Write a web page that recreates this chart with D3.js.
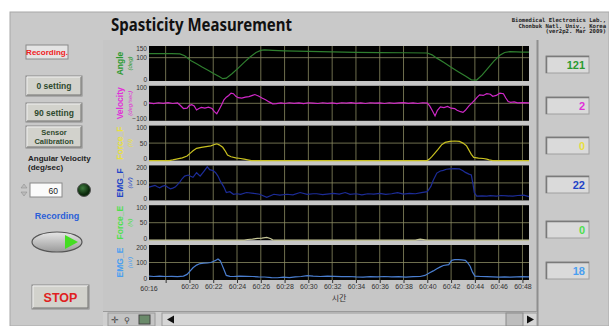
<!DOCTYPE html>
<html>
<head>
<meta charset="utf-8">
<script src="https://cdn.jsdelivr.net/npm/d3@7"></script>
<style>
  body { margin: 0; background: #fff; }
  svg { display: block; font-family: "Liberation Sans", Arial, sans-serif; }
</style>
</head>
<body>
<svg id="front" width="609" height="326"></svg>
<script>
// time is seconds after 60:00
const angle = [[16.6,117],[17.5,117],[18.5,117],[19.2,116],[19.6,108],[20.1,88],[20.6,74],[21.1,59],[21.6,45],[22.1,30],[22.5,19],[22.8,10],[23.1,12],[23.6,32],[24.1,55],[24.6,80],[25.1,103],[25.6,122],[26.0,131],[26.3,133],[27.0,131],[28.0,129],[30.0,127],[32.0,125],[34.0,123],[36.0,122],[38.0,121],[40.0,120],[40.4,112],[40.8,98],[41.4,79],[42.0,59],[42.6,40],[43.2,21],[43.7,5],[44.15,4],[44.6,25],[45.1,55],[45.6,85],[46.1,110],[46.5,122],[46.95,126],[47.5,125],[48.0,124],[48.55,124]];
const velocity = [[16.6,2],[17.0,-2],[17.4,3],[17.8,0],[18.2,4],[18.6,-1],[19.0,2],[19.2,-10],[19.5,-30],[19.8,-28],[20.0,-12],[20.2,-8],[20.4,-15],[20.6,-38],[20.8,-30],[21.0,-24],[21.3,-28],[21.6,-22],[21.9,-30],[22.1,-48],[22.3,-60],[22.5,-35],[22.7,-10],[22.9,20],[23.1,35],[23.3,45],[23.5,58],[23.7,55],[23.9,40],[24.1,32],[24.4,30],[24.7,35],[25.0,38],[25.3,45],[25.5,50],[25.8,42],[26.1,30],[26.4,20],[26.7,8],[27.0,-3],[27.3,-2],[27.7,2],[28.0,-1],[28.4,3],[28.8,0],[29.2,2],[29.6,-2],[30.0,3],[30.4,1],[30.8,-1],[31.2,3],[31.6,0],[32.0,2],[32.4,-2],[32.8,3],[33.2,1],[33.6,4],[34.0,0],[34.4,2],[34.8,-1],[35.2,3],[35.6,1],[36.0,2],[36.4,-1],[36.8,3],[37.2,0],[37.6,2],[38.0,4],[38.4,0],[38.8,2],[39.2,-1],[39.6,3],[40.0,1],[40.2,-15],[40.45,-45],[40.65,-72],[40.85,-40],[41.1,-20],[41.4,-25],[41.7,-18],[42.0,-28],[42.3,-30],[42.5,-40],[42.8,-48],[43.0,-52],[43.2,-40],[43.5,-15],[43.8,5],[44.0,20],[44.2,35],[44.4,48],[44.7,45],[45.0,55],[45.3,52],[45.5,40],[45.8,45],[46.1,58],[46.4,55],[46.6,30],[46.8,10],[47.0,5],[47.3,8],[47.6,2],[48.0,4],[48.55,2]];
const forceF = [[16.6,0],[18.3,0],[18.6,2],[19.0,5],[19.4,8],[19.8,13],[20.1,22],[20.3,28],[20.6,35],[21.0,38],[21.4,40],[21.8,42],[22.1,46],[22.3,48],[22.5,45],[22.8,38],[23.0,28],[23.2,16],[23.5,11],[23.9,8],[24.3,6],[24.6,4],[24.9,2],[25.2,0],[40.0,0],[40.2,5],[40.4,12],[40.6,20],[40.9,32],[41.2,45],[41.5,52],[41.9,55],[42.3,56],[42.7,55],[43.0,50],[43.3,42],[43.5,30],[43.7,18],[43.9,9],[44.3,7],[44.7,6],[45.0,4],[45.2,2],[45.5,0],[48.55,0]];
const emgF = [[16.6,76],[16.9,82],[17.1,86],[17.3,78],[17.5,72],[17.7,80],[17.96,86],[18.2,74],[18.4,66],[18.6,70],[18.8,76],[19.0,90],[19.2,106],[19.4,125],[19.6,139],[19.9,145],[20.1,138],[20.3,132],[20.6,158],[20.9,139],[21.2,165],[21.5,192],[21.7,176],[22.0,170],[22.2,158],[22.4,139],[22.6,110],[22.9,76],[23.1,45],[23.4,50],[23.7,35],[24.0,38],[24.3,35],[24.8,45],[25.4,40],[25.9,35],[26.5,18],[27.1,35],[27.6,30],[28.2,35],[28.7,32],[29.3,45],[29.9,35],[30.4,38],[30.7,38],[31.2,33],[32.1,40],[32.6,36],[33.1,45],[33.5,35],[34.0,38],[34.5,32],[35.0,38],[35.5,36],[36.0,40],[36.5,34],[37.0,38],[37.5,44],[38.0,36],[38.5,40],[39.0,38],[39.5,44],[40.0,50],[40.3,80],[40.5,115],[40.8,156],[41.1,168],[41.35,172],[41.6,178],[41.9,180],[42.3,182],[42.7,180],[43.0,170],[43.2,160],[43.5,150],[43.7,145],[43.85,90],[43.95,45],[44.15,24],[44.6,26],[45.0,24],[45.3,27],[45.8,25],[46.2,28],[46.7,26],[47.2,24],[47.6,28],[48.1,30],[48.55,22]];
const forceE = [[16.6,0],[24.6,0],[24.9,2],[25.3,3],[25.7,5],[26.1,6],[26.5,8],[26.8,5],[27.0,1],[27.3,0],[39.0,0],[39.4,3],[39.8,1],[40.0,0],[48.55,0]];
const emgE = [[16.6,22],[17.0,20],[17.5,22],[18.0,20],[18.5,21],[19.0,19],[19.5,22],[19.8,32],[20.05,51],[20.3,70],[20.6,85],[20.9,94],[21.2,96],[21.5,97],[21.8,100],[22.0,106],[22.2,112],[22.4,120],[22.6,109],[22.75,85],[22.9,60],[23.1,26],[23.4,21],[23.7,20],[24.2,22],[24.8,21],[25.3,20],[25.8,18],[26.3,17],[26.9,14],[27.4,13],[27.9,16],[28.4,14],[28.9,18],[29.4,20],[29.9,25],[30.4,22],[31.0,20],[31.6,22],[32.2,21],[32.8,19],[33.4,20],[34.0,18],[34.6,17],[35.2,19],[35.8,18],[36.4,20],[37.0,18],[37.6,19],[38.2,17],[38.8,19],[39.4,20],[39.8,26],[40.2,41],[40.5,52],[40.8,64],[41.1,75],[41.35,83],[41.8,88],[42.05,112],[42.3,116],[42.6,116],[42.9,115],[43.2,112],[43.4,98],[43.6,79],[43.8,45],[44.0,22],[44.5,20],[45.0,19],[45.5,18],[46.0,17],[46.5,18],[47.0,16],[47.5,18],[48.0,19],[48.55,18]];

const panelNames = ["Angle", "Velocity", "Force_F", "EMG_F", "Force_E", "EMG_E"];
const panelUnits = ["(deg)", "(deg/sec)", "(N)", "(uV)", "(N)", "(uV)"];
const panelDomains = [[0, 150], [-100, 100], [0, 100], [0, 200], [0, 100], [0, 200]];
const panelTicks = [[0, 100, 150], [-100, 0, 100], [0, 50, 100], [0, 100, 200], [0, 50, 100], [0, 100, 200]];
const panelGrid = [100, 0, 50, 100, 50, 100];
const currentValues = [121, 2, 0, 22, 0, 18];
const xDomain = [16.6, 48.55];
const xTickTimes = [18, 20, 22, 24, 26, 28, 30, 32, 34, 36, 38, 40, 42, 44, 46, 48];
const xMinLabel = "60:16";

const series = [angle, velocity, forceF, emgF, forceE, emgE];
const labelColors = ["#2a9a30", "#e030d8", "#e8e040", "#1e44c8", "#4ee04e", "#4a9ff0"];
const traceColors = ["#2f7f2f", "#d028c8", "#c8c020", "#1c2c98", "#c8c898", "#4a7ed0"];

const svg = d3.select("#front");
const defs = svg.append("defs");

// front panel
svg.append("rect").attr("x", 10).attr("y", 12).attr("width", 599).attr("height", 314)
  .attr("fill", "#c9c9c9").attr("stroke", "#a8a8a8");

svg.append("text").attr("x", 111).attr("y", 31)
  .attr("font-family", "'Noto Sans', 'DejaVu Sans', sans-serif")
  .attr("font-weight", "bold").attr("font-size", 18).attr("fill", "#111")
  .attr("textLength", 181).attr("lengthAdjust", "spacingAndGlyphs")
  .text("Spasticity Measurement");

const labLines = ["Biomedical Electronics Lab.,", "Chonbuk Natl. Univ., Korea", "(ver2p2. Mar 2009)"];
svg.selectAll("text.lab").data(labLines).enter().append("text")
  .attr("class", "lab")
  .attr("x", 606).attr("y", (d, i) => 22 + i * 5.5)
  .attr("text-anchor", "end")
  .attr("font-family", "'DejaVu Sans Mono', monospace")
  .attr("font-weight", "bold").attr("font-size", 5.6).attr("fill", "#222")
  .text(d => d);

// chart frame
svg.append("rect").attr("x", 103).attr("y", 40).attr("width", 434).attr("height", 271)
  .attr("fill", "#c6c6c6");
svg.append("line").attr("x1", 537.5).attr("x2", 537.5).attr("y1", 40).attr("y2", 326)
  .attr("stroke", "#8e8e8e").attr("stroke-width", 2);
svg.append("line").attr("x1", 103).attr("x2", 537).attr("y1", 311.5).attr("y2", 311.5)
  .attr("stroke", "#9a9a9a");

const x = d3.scaleLinear().domain(xDomain).range([149, 529]);
const panelTop = 46, panelStep = 39.8, panelH = 35;
const fmt = t => "60:" + d3.format("02d")(t);

series.forEach((data, i) => {
  const top = panelTop + i * panelStep;
  const dom = panelDomains[i];
  const y = d3.scaleLinear().domain(dom).range([top + panelH, top]);
  const g = svg.append("g");

  g.append("rect").attr("x", 149).attr("y", top).attr("width", 380).attr("height", panelH)
    .attr("fill", "#000");

  g.selectAll("line.vg").data(xTickTimes).enter().append("line")
    .attr("x1", d => x(d)).attr("x2", d => x(d))
    .attr("y1", top).attr("y2", top + panelH)
    .attr("stroke", "#8a8a62").attr("stroke-width", 0.8);

  g.append("line").attr("x1", 149).attr("x2", 529)
    .attr("y1", y(panelGrid[i])).attr("y2", y(panelGrid[i]))
    .attr("stroke", "#8a8a62").attr("stroke-width", 0.8);

  g.append("path").datum(data)
    .attr("fill", "none").attr("stroke", traceColors[i]).attr("stroke-width", 1.2)
    .attr("d", d3.line().x(d => x(d[0])).y(d => y(d[1])));

  const ax = g.append("g").attr("transform", "translate(148,0)")
    .call(d3.axisLeft(y).tickValues(panelTicks[i]).tickSize(0).tickPadding(1));
  ax.select(".domain").remove();
  ax.selectAll("text").attr("font-size", 6.5).attr("fill", "#333")
    .attr("dy", d => d === dom[1] ? "0.62em" : d === dom[0] ? "0.02em" : "0.32em");

  const cy = top + panelH / 2;
  g.append("text").attr("transform", `translate(123,${cy}) rotate(-90)`)
    .attr("text-anchor", "middle").attr("font-weight", "bold").attr("font-size", 8.5)
    .attr("fill", labelColors[i]).text(panelNames[i]);
  g.append("text").attr("transform", `translate(131.5,${cy}) rotate(-90)`)
    .attr("text-anchor", "middle").attr("font-style", "italic").attr("font-size", 6)
    .attr("fill", labelColors[i]).text(panelUnits[i]);

  // numeric indicator
  const by = [56, 97, 137, 176, 221, 262][i];
  svg.append("rect").attr("x", 546).attr("y", by).attr("width", 43).attr("height", 17)
    .attr("fill", "#dadada").attr("stroke", "#a0a0a0");
  svg.append("path").attr("d", `M546.5,${by + 17}V${by + 0.5}H589`)
    .attr("fill", "none").attr("stroke", "#7a7a7a").attr("stroke-width", 1.5);
  svg.append("text").attr("x", 585).attr("y", by + 12.5).attr("text-anchor", "end")
    .attr("font-weight", "bold").attr("font-size", 11).attr("fill", labelColors[i])
    .text(currentValues[i]);
});

// time axis
const lastBottom = panelTop + 5 * panelStep + panelH;
const xa = svg.append("g").attr("transform", `translate(0,${lastBottom})`)
  .call(d3.axisBottom(x).tickValues(xTickTimes).tickSize(3).tickPadding(1)
    .tickFormat(d => d === xTickTimes[0] ? "" : fmt(d)));
xa.select(".domain").remove();
xa.selectAll("line").attr("stroke", "#333");
xa.selectAll("text").attr("font-size", 7).attr("fill", "#333");
svg.append("text").attr("x", x(xDomain[0])).attr("y", lastBottom + 11)
  .attr("text-anchor", "middle").attr("font-size", 7).attr("fill", "#333").text(xMinLabel);
svg.append("text").attr("x", 339).attr("y", lastBottom + 21)
  .attr("text-anchor", "middle").attr("font-size", 8).attr("fill", "#333")
  .attr("font-family", "'Noto Sans CJK KR', sans-serif").text("시간");

// scrollbar + palette
svg.append("rect").attr("x", 103).attr("y", 312).attr("width", 434).attr("height", 14).attr("fill", "#cfcfcf");
svg.append("rect").attr("x", 108).attr("y", 313).attr("width", 47).attr("height", 13)
  .attr("fill", "#c4c4c4").attr("stroke", "#9a9a9a");
svg.append("text").attr("x", 111).attr("y", 323).attr("font-size", 9).attr("fill", "#444").text("✛");
svg.append("text").attr("x", 124).attr("y", 323).attr("font-size", 8).attr("fill", "#444").text("⚲");
svg.append("rect").attr("x", 139).attr("y", 315).attr("width", 11).attr("height", 9)
  .attr("fill", "#6a8a6a").attr("stroke", "#444");
svg.append("rect").attr("x", 162).attr("y", 313).attr("width", 375).attr("height", 13)
  .attr("fill", "#d6d6d6").attr("stroke", "#9a9a9a");
svg.append("path").attr("d", "M167,319.5L174,315.5V323.5Z").attr("fill", "#111");
svg.append("rect").attr("x", 506).attr("y", 313).attr("width", 17).attr("height", 13)
  .attr("fill", "#bdbdbd").attr("stroke", "#8a8a8a");
svg.append("path").attr("d", "M534,319.5L527,315.5V323.5Z").attr("fill", "#111");

// left controls
function button(x0, y0, w, h, lines, color, size) {
  svg.append("rect").attr("x", x0).attr("y", y0).attr("width", w).attr("height", h)
    .attr("fill", "#d2d2cc").attr("stroke", "#8a8a8a");
  svg.append("path").attr("d", `M${x0 + 1},${y0 + h - 1}V${y0 + 1}H${x0 + w - 1}`)
    .attr("fill", "none").attr("stroke", "#f0f0f0");
  svg.append("path").attr("d", `M${x0 + 1},${y0 + h - 1}H${x0 + w - 1}V${y0 + 1}`)
    .attr("fill", "none").attr("stroke", "#707070");
  lines.forEach((t, k) => {
    svg.append("text").attr("x", x0 + w / 2)
      .attr("y", y0 + h / 2 + size * 0.36 + (k - (lines.length - 1) / 2) * (size + 1))
      .attr("text-anchor", "middle").attr("font-weight", "bold").attr("font-size", size)
      .attr("fill", color).text(t);
  });
}

svg.append("rect").attr("x", 26).attr("y", 45).attr("width", 42).attr("height", 14)
  .attr("fill", "#e4e4e4").attr("stroke", "#8a8a8a");
svg.append("text").attr("x", 47).attr("y", 55).attr("text-anchor", "middle")
  .attr("font-weight", "bold").attr("font-size", 8).attr("fill", "#f02020").text("Recording.");

button(26, 76, 56, 20, ["0 setting"], "#2e4a2e", 8.5);
button(26, 103, 56, 19, ["90 setting"], "#2e4a2e", 8.5);
button(26, 126, 56, 22, ["Sensor", "Calibration"], "#2e4a2e", 7.5);

svg.append("text").attr("x", 28).attr("y", 161).attr("font-weight", "bold").attr("font-size", 8)
  .attr("fill", "#222").text("Angular Velocity");
svg.append("text").attr("x", 28).attr("y", 170).attr("font-weight", "bold").attr("font-size", 8)
  .attr("fill", "#222").text("(deg/sec)");
svg.append("rect").attr("x", 30).attr("y", 183).attr("width", 32).attr("height", 14)
  .attr("fill", "#fbfbfb").attr("stroke", "#8a8a8a");
svg.append("text").attr("x", 58).attr("y", 193.5).attr("text-anchor", "end").attr("font-size", 8.5)
  .attr("fill", "#222").text("60");
svg.append("path").attr("d", "M21,188L24,184L27,188Z M21,192L24,196L27,192Z")
  .attr("fill", "#bbb").attr("stroke", "#888").attr("stroke-width", 0.5);

const led = defs.append("radialGradient").attr("id", "led").attr("cx", "40%").attr("cy", "35%");
led.append("stop").attr("offset", "0%").attr("stop-color", "#3e7a3e");
led.append("stop").attr("offset", "100%").attr("stop-color", "#0c2a0c");
svg.append("circle").attr("cx", 84).attr("cy", 190).attr("r", 6.5).attr("fill", "url(#led)")
  .attr("stroke", "#555");

svg.append("text").attr("x", 57).attr("y", 219).attr("text-anchor", "middle")
  .attr("font-weight", "bold").attr("font-size", 9).attr("fill", "#2b5fd8").text("Recording");
const oval = defs.append("linearGradient").attr("id", "oval").attr("x1", 0).attr("y1", 0).attr("x2", 0).attr("y2", 1);
oval.append("stop").attr("offset", "0%").attr("stop-color", "#e6e6e6");
oval.append("stop").attr("offset", "100%").attr("stop-color", "#9a9a9a");
svg.append("ellipse").attr("cx", 57).attr("cy", 242).attr("rx", 25).attr("ry", 10)
  .attr("fill", "url(#oval)").attr("stroke", "#555").attr("stroke-width", 1.2);
svg.append("path").attr("d", "M65,235L78,242L65,249Z").attr("fill", "#44dd22");

button(32, 285, 57, 24, ["STOP"], "#e02020", 12.5);
</script>
</body>
</html>
